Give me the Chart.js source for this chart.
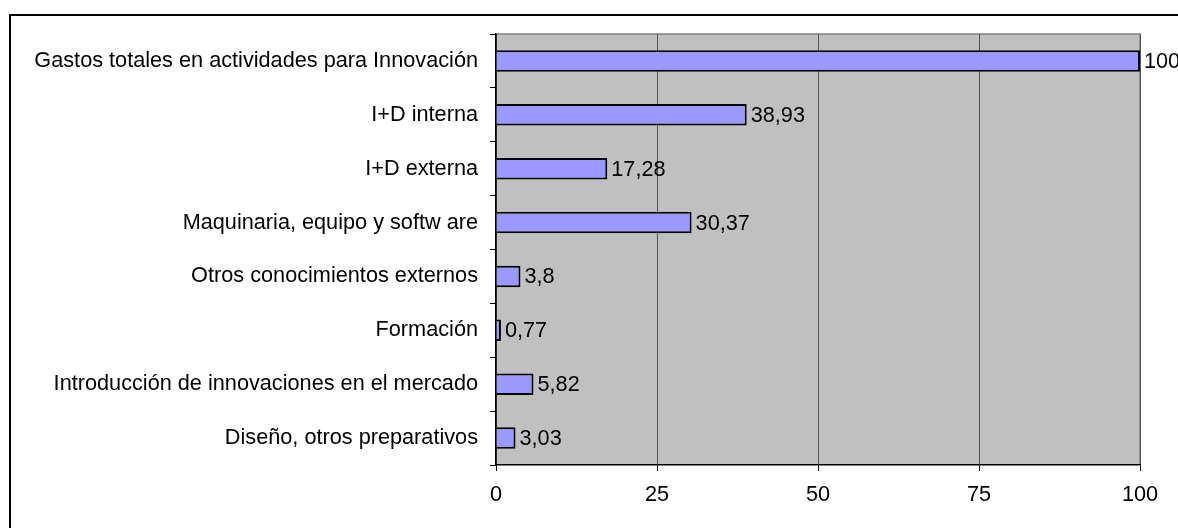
<!DOCTYPE html>
<html>
<head>
<meta charset="utf-8">
<script src="https://cdn.jsdelivr.net/npm/chart.js@4"></script>
<style>
  html, body { margin: 0; padding: 0; background: #fff; overflow: hidden; }
  #frame { position: absolute; left: 9px; top: 14px; width: 1300px; height: 700px; border: 2px solid #000; box-sizing: border-box; }
  #wrap { position: absolute; left: 0; top: 0; width: 1178px; height: 528px; }
</style>
</head>
<body>
<div id="frame"></div>
<div id="wrap"><canvas id="chart"></canvas></div>
<script>
// Datos del gráfico
const categories = [
    'Gastos totales en actividades para Innovación',
    'I+D interna',
    'I+D externa',
    'Maquinaria, equipo y softw are',
    'Otros conocimientos externos',
    'Formación',
    'Introducción de innovaciones en el mercado',
    'Diseño, otros preparativos'
];
const values = [100, 38.93, 17.28, 30.37, 3.8, 0.77, 5.82, 3.03];
const xTicks = [0, 25, 50, 75, 100];

const FONT = 'Liberation Sans, Arial, sans-serif';
const SIZE = 21.7;

// Fondo gris del área de trazado
const plotBackground = {
    id: 'plotBackground',
    beforeDraw(chart) {
        const { ctx, chartArea: a } = chart;
        ctx.save();
        ctx.fillStyle = '#C0C0C0';
        ctx.fillRect(a.left, a.top, a.right - a.left, a.bottom - a.top);
        ctx.strokeStyle = '#808080';
        ctx.lineWidth = 1.5;
        ctx.beginPath();
        ctx.moveTo(a.left, a.top);
        ctx.lineTo(a.right, a.top);
        ctx.lineTo(a.right, a.bottom);
        ctx.stroke();
        ctx.restore();
    }
};

// Etiquetas de valor a la derecha de cada barra
const valueLabels = {
    id: 'valueLabels',
    afterDatasetsDraw(chart) {
        const { ctx } = chart;
        const meta = chart.getDatasetMeta(0);
        ctx.save();
        ctx.font = SIZE + 'px ' + FONT;
        ctx.fillStyle = '#000';
        ctx.textAlign = 'left';
        ctx.textBaseline = 'middle';
        meta.data.forEach((bar, i) => {
            const txt = String(values[i]).replace('.', ',');
            ctx.fillText(txt, bar.x + 4, bar.y + 1);
        });
        ctx.restore();
    }
};

new Chart(document.getElementById('chart'), {
    type: 'bar',
    data: {
        labels: categories,
        datasets: [{
            data: values,
            backgroundColor: '#9999FF',
            borderColor: '#000',
            borderWidth: 2,
            barPercentage: 0.4,
            categoryPercentage: 1
        }]
    },
    options: {
        indexAxis: 'y',
        responsive: true,
        maintainAspectRatio: false,
        animation: false,
        layout: { padding: { top: 34, right: 38, left: 0, bottom: 0 } },
        plugins: {
            legend: { display: false },
            tooltip: { enabled: false }
        },
        scales: {
            x: {
                min: 0,
                max: 100,
                afterBuildTicks: s => { s.ticks = xTicks.map(v => ({ value: v })); },
                afterFit: s => { s.height = 63; },
                grid: { color: '#555', lineWidth: 1, tickColor: '#000', tickLength: 6 },
                border: { color: '#000', width: 1.5 },
                ticks: { color: '#000', font: { family: FONT, size: SIZE }, padding: 11, maxRotation: 0 }
            },
            y: {
                afterFit: s => { s.width = 496; },
                grid: { offset: true, drawOnChartArea: false, color: '#000', tickLength: 6 },
                border: { color: '#000', width: 1.5 },
                ticks: { color: '#000', font: { family: FONT, size: SIZE }, padding: 12, autoSkip: false }
            }
        }
    },
    plugins: [plotBackground, valueLabels]
});
</script>
</body>
</html>
